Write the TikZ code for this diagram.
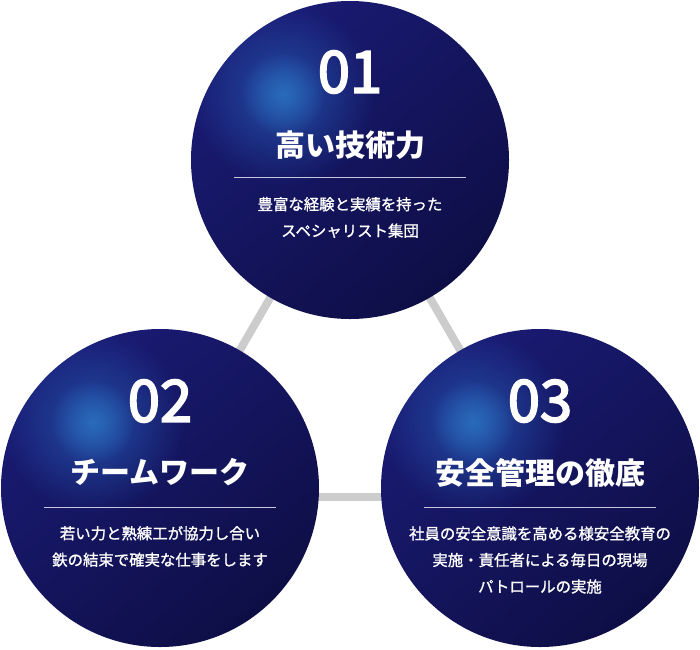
\documentclass[tikz,border=0pt]{standalone}
\usepackage{fontspec}
\newfontfamily\jp{Noto Sans CJK JP}
\newfontfamily\jpnum[FakeBold=3]{Noto Sans CJK JP}
\newfontfamily\jpdesc[FakeBold=1.2]{Noto Sans CJK JP}
\usetikzlibrary{calc,fadings}
\definecolor{hlA}{HTML}{2B70BE}
\definecolor{hlB}{HTML}{2453AC}
\definecolor{navyA}{HTML}{1A1B74}
\definecolor{navyB}{HTML}{151666}
\definecolor{navyC}{HTML}{0E0E46}
\definecolor{connGray}{HTML}{CCCCCC}
\definecolor{ruleCol}{HTML}{C4C7DE}
\tikzfading[name=glowfade, inner color=transparent!0, outer color=transparent!100]
\tikzset{
  ball/.style={circle, minimum size=318pt, inner sep=0pt,
    top color=navyA, middle color=navyB, bottom color=navyC, shading angle=40},
  conn/.style={draw=connGray, line width=8pt},
  rulel/.style={draw=ruleCol, line width=1pt},
  glowbig/.style={fill=hlB, path fading=glowfade, fill opacity=0.9},
  glowsmall/.style={fill=hlA, path fading=glowfade, fill opacity=0.85},
  numtxt/.style={text=white, font=\jpnum\fontsize{58}{58}\selectfont},
  titletxt/.style={text=white, font=\jp\bfseries\fontsize{30}{32}\selectfont},
  desctxt/.style={text=white, align=center, font=\jpdesc\fontsize{15.4}{26.5}\selectfont}
}
\begin{document}
\begin{tikzpicture}[x=1pt, y=-1pt]
\useasboundingbox (0,0) rectangle (700,649);
\coordinate (p1) at (350,160);
\coordinate (p2) at (160,488);
\coordinate (p3) at (540,488);
\coordinate (h2) at (160,497);
\coordinate (h3) at (540,497);
% connectors
\draw[conn] (p1) -- (p2);
\draw[conn] (p1) -- (p3);
\draw[conn] (h2) -- (h3);
% circles
\node[ball] (c1) at (p1) {};
\node[ball] (c2) at (p2) {};
\node[ball] (c3) at (p3) {};
% glows
\foreach \c in {c1,c2,c3}{
  \begin{scope}
    \clip (\c) circle (159pt);
    \fill[glowbig] ($(\c)+(-67,-66)$) circle (92pt);
    \fill[glowsmall] ($(\c)+(-67,-66)$) circle (42pt);
  \end{scope}
}
% circle 1
\node[numtxt] (n1) at ($(c1)+(0,-88)$) {01};
\node[titletxt] (t1) at ($(c1)+(0,-15)$) {高い技術力};
\draw[rulel] ($(c1)+(-116,17)$) -- ($(c1)+(116,17)$);
\node[desctxt] (d1) at ($(c1)+(0,57.5)$) {豊富な経験と実績を持った\\スペシャリスト集団};
% circle 2
\node[numtxt] (n2) at ($(c2)+(0,-87)$) {02};
\node[titletxt] (t2) at ($(c2)+(0,-16)$) {チームワーク};
\draw[rulel] ($(c2)+(-116,19)$) -- ($(c2)+(116,19)$);
\node[desctxt] (d2) at ($(c2)+(0,58.5)$) {若い力と熟練工が協力し合い\\鉄の結束で確実な仕事をします};
% circle 3
\node[numtxt] (n3) at ($(c3)+(0,-87)$) {03};
\node[titletxt] (t3) at ($(c3)+(0,-15)$) {安全管理の徹底};
\draw[rulel] ($(c3)+(-116,19)$) -- ($(c3)+(116,19)$);
\node[desctxt] (d3) at ($(c3)+(0,72)$) {社員の安全意識を高める様安全教育の\\実施・責任者による毎日の現場\\パトロールの実施};
\end{tikzpicture}
\end{document}
